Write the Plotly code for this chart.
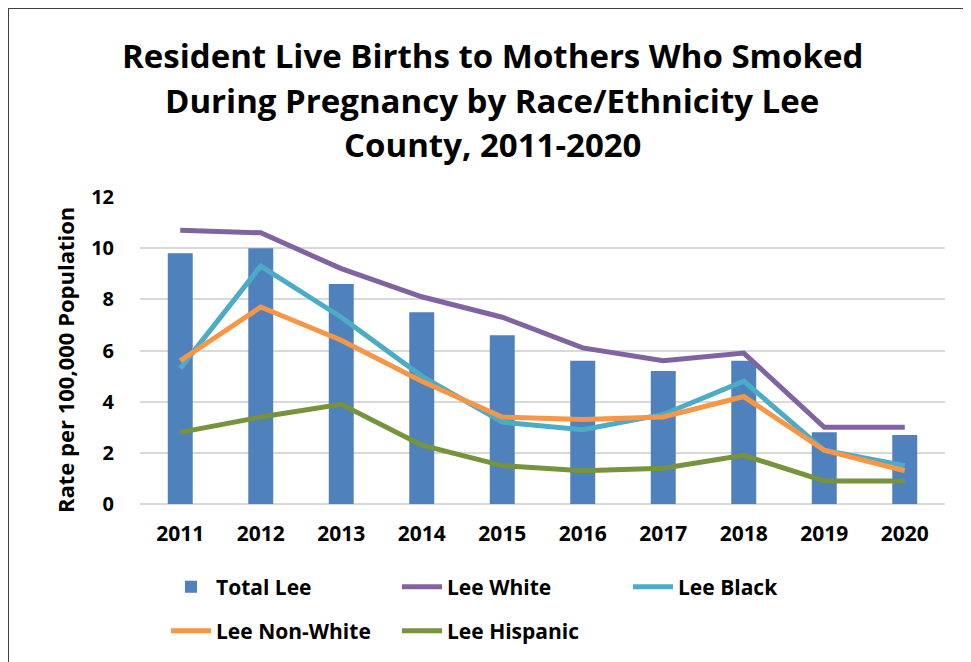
import plotly.graph_objects as go

years = ["2011", "2012", "2013", "2014", "2015", "2016", "2017", "2018", "2019", "2020"]
total_lee = [9.8, 10.0, 8.6, 7.5, 6.6, 5.6, 5.2, 5.6, 2.8, 2.7]
lee_white = [10.7, 10.6, 9.2, 8.1, 7.3, 6.1, 5.6, 5.9, 3.0, 3.0]
lee_black = [5.3, 9.3, 7.3, 5.0, 3.2, 2.9, 3.5, 4.8, 2.1, 1.5]
lee_nonwhite = [5.6, 7.7, 6.4, 4.8, 3.4, 3.3, 3.4, 4.2, 2.1, 1.3]
lee_hispanic = [2.8, 3.4, 3.9, 2.3, 1.5, 1.3, 1.4, 1.9, 0.9, 0.9]
y_ticks = [0, 2, 4, 6, 8, 10, 12]

FONT = "Open Sans"
OFF = 8  # browser body margin
W, H = 971, 662
# target screen positions of plot area
SX0, SX1, SY0, SY1 = 140, 945, 197, 504
L, R = SX0 - OFF, W - (SX1 - OFF)
T, B = SY0 - OFF, H - (SY1 - OFF)
pw, ph = W - L - R, H - T - B

def px_x(px):
    return (px - OFF - L) / pw

def px_y(py):
    return (H - B - (py - OFF)) / ph

fig = go.Figure()
fig.add_trace(go.Bar(x=years, y=total_lee, name="Total Lee", marker=dict(color="#4F81BD", line=dict(width=0)), legend="legend"))
fig.add_trace(go.Scatter(x=years, y=lee_white, name="Lee White", mode="lines", line=dict(color="#8064A2", width=5), legend="legend"))
fig.add_trace(go.Scatter(x=years, y=lee_black, name="Lee Black", mode="lines", line=dict(color="#4BACC6", width=5), legend="legend"))
fig.add_trace(go.Scatter(x=years, y=lee_nonwhite, name="Lee Non-White", mode="lines", line=dict(color="#F79646", width=5), legend="legend2"))
fig.add_trace(go.Scatter(x=years, y=lee_hispanic, name="Lee Hispanic", mode="lines", line=dict(color="#77933C", width=5), legend="legend2"))

title_lines = ["Resident Live Births to Mothers Who Smoked", "During Pregnancy by Race/Ethnicity Lee", "County, 2011-2020"]
title_y = [55, 100, 145]
annotations = []
for txt, ty in zip(title_lines, title_y):
    annotations.append(dict(text="<b>" + txt + "</b>", x=px_x(492), y=px_y(ty), xref="paper", yref="paper",
                            xanchor="center", yanchor="middle", showarrow=False,
                            font=dict(family=FONT, size=33, color="#000000")))
annotations.append(dict(text="<b>Rate per 100,000 Population</b>", x=px_x(65), y=px_y(360), xref="paper", yref="paper",
                        xanchor="center", yanchor="middle", showarrow=False, textangle=-90,
                        font=dict(family=FONT, size=22, color="#000000")))

legend_common = dict(orientation="h", xref="paper", yref="paper", xanchor="left", yanchor="middle",
                     entrywidth=176, entrywidthmode="pixels", bgcolor="rgba(0,0,0,0)",
                     font=dict(family=FONT, size=21, color="#000000", weight="bold"), itemwidth=40, traceorder="normal")

fig.update_layout(
    width=W, height=H,
    margin=dict(l=L, r=R, t=T, b=B, autoexpand=False),
    paper_bgcolor="white", plot_bgcolor="white",
    bargap=0.69,
    font=dict(family=FONT, color="#000000"),
    annotations=annotations,
    legend=dict(x=px_x(166), y=px_y(587), **legend_common),
    legend2=dict(x=px_x(166), y=px_y(631), **legend_common),
    xaxis=dict(tickfont=dict(family=FONT, size=21, color="#000000", weight="bold"), showgrid=False,
               showline=False, ticks="", ticklabelstandoff=15),
    yaxis=dict(range=[0, 12], tickvals=y_ticks, tickfont=dict(family=FONT, size=20, color="#000000", weight="bold"),
               showgrid=True, gridcolor="#D9D9D9", gridwidth=2, zeroline=True, zerolinecolor="#D9D9D9", zerolinewidth=2,
               ticks="", ticklabelstandoff=25),
    shapes=[dict(type="rect", xref="paper", yref="paper", x0=px_x(8), x1=px_x(1000), y0=px_y(700), y1=px_y(8),
                 line=dict(color="#404040", width=2), fillcolor="rgba(0,0,0,0)", layer="below")],
)

fig.write_html("out.html")
